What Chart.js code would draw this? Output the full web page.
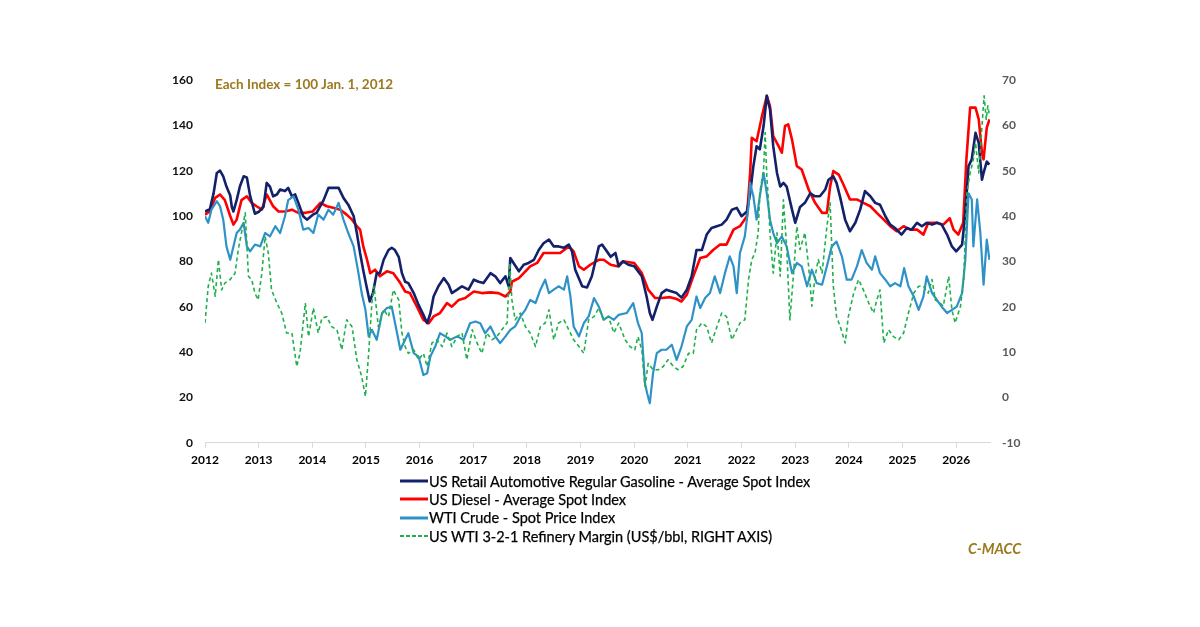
<!DOCTYPE html>
<html><head><meta charset="utf-8">
<script src="https://cdn.jsdelivr.net/npm/chart.js@4.4.1/dist/chart.umd.min.js"></script>
<style>
body{margin:0;background:#fff;}
#wrap{position:relative;width:1200px;height:627px;overflow:hidden;font-family:Lato,"Open Sans",sans-serif;background:#fff;}
canvas{position:absolute;left:0;top:0;}
#note{position:absolute;left:215px;top:76px;color:#9B7A1E;font-weight:bold;font-size:13.5px;white-space:nowrap;}
#legend{position:absolute;left:400px;top:472px;}
.row{display:flex;align-items:center;height:18.3px;font-size:14.5px;color:#000;white-space:nowrap;-webkit-text-stroke:0.25px #000;}
.row svg{margin-right:1px;}
#src{position:absolute;left:968px;top:540px;color:#9B7A1E;font-style:italic;font-weight:bold;font-size:14.5px;}
</style></head>
<body>
<div id="wrap">
<canvas id="c" width="1200" height="627"></canvas>
<div id="note">Each Index = 100 Jan. 1, 2012</div>
<div id="legend"></div>
<div id="src">C-MACC</div>
</div>
<script>
const seriesLabels = [
  "US Retail Automotive Regular Gasoline - Average Spot Index",
  "US Diesel - Average Spot Index",
  "WTI Crude - Spot Price Index",
  "US WTI 3-2-1 Refinery Margin (US$/bbl, RIGHT AXIS)"
];
const leftTicks = [0,20,40,60,80,100,120,140,160];
const rightTicks = [-10,0,10,20,30,40,50,60,70];
const yearTicks = [2012,2013,2014,2015,2016,2017,2018,2019,2020,2021,2022,2023,2024,2025,2026];

const gasYears = [2012.00,2012.09,2012.16,2012.22,2012.28,2012.34,2012.40,2012.47,2012.50,2012.53,2012.59,2012.65,2012.72,2012.78,2012.84,2012.93,2013.01,2013.09,2013.15,2013.21,2013.27,2013.34,2013.40,2013.49,2013.55,2013.62,2013.68,2013.74,2013.83,2013.90,2014.01,2014.08,2014.21,2014.30,2014.39,2014.49,2014.58,2014.67,2014.77,2014.83,2014.89,2014.95,2015.01,2015.07,2015.13,2015.20,2015.26,2015.33,2015.42,2015.48,2015.54,2015.61,2015.67,2015.73,2015.79,2015.89,2015.98,2016.07,2016.14,2016.20,2016.26,2016.35,2016.45,2016.54,2016.60,2016.70,2016.79,2016.91,2017.01,2017.10,2017.19,2017.32,2017.41,2017.50,2017.60,2017.66,2017.69,2017.75,2017.85,2017.94,2018.03,2018.13,2018.22,2018.31,2018.41,2018.50,2018.59,2018.69,2018.78,2018.84,2018.90,2019.03,2019.12,2019.21,2019.34,2019.40,2019.49,2019.56,2019.65,2019.71,2019.79,2019.89,2020.00,2020.14,2020.23,2020.29,2020.34,2020.42,2020.51,2020.60,2020.70,2020.79,2020.88,2020.98,2021.07,2021.16,2021.26,2021.35,2021.44,2021.54,2021.63,2021.72,2021.82,2021.91,2022.00,2022.10,2022.16,2022.22,2022.28,2022.34,2022.41,2022.47,2022.53,2022.59,2022.66,2022.72,2022.78,2022.84,2022.94,2023.00,2023.09,2023.18,2023.28,2023.37,2023.46,2023.56,2023.62,2023.71,2023.77,2023.84,2023.93,2024.02,2024.12,2024.21,2024.30,2024.40,2024.49,2024.58,2024.68,2024.77,2024.86,2024.98,2025.08,2025.17,2025.27,2025.36,2025.45,2025.55,2025.64,2025.73,2025.83,2025.92,2026.00,2026.11,2026.17,2026.23,2026.29,2026.36,2026.42,2026.48,2026.51,2026.57,2026.62];
const gasValues = [102,103,110,119,120,117.5,113,109,104,102,107,113,117.5,117,109,101,102,104,114.6,113,108.7,109.5,111.7,111,112.4,108.7,109.5,105.8,99.9,98.4,100.6,101.4,107,112.4,112.4,112.4,108,105,100,92.5,83.7,76,69,62.3,66,74.8,74.8,80.7,85,86,85,82,74.8,71,70.4,66,60.8,56.4,52.7,57,64.5,69,72.6,69.7,66,67.5,69,67.5,71.9,71,70.4,74.8,73.4,70.4,73.4,69,81.5,79.3,75.6,78.5,79.3,80.7,85,88,89.6,86.6,86.6,86,87.4,84.4,76.3,69,68.5,73.4,86.6,87.4,84.4,82,83.7,77.8,80,78.5,77.8,73.4,64.5,57.2,54.2,60,66,67.5,66.7,66,64,67.5,73.4,85,85,91.8,94.7,95.5,96.2,98.4,102.8,103.6,99.9,102,110,122,130.8,129.4,139.7,153,147,130.8,119,113,114.6,113,102.8,97,104,105.8,110,108.7,108.7,111.7,116,117.5,114.6,108,98.4,93.3,97,102.8,111,108.7,105.8,105,99.9,96.2,94.7,91.8,94.7,94,97,95.5,97,96.2,97,96.2,91.8,86.6,84.4,87.4,101.4,122,125,136.7,132.3,116,119,124,122.7];

const dslYears = [2012.00,2012.09,2012.19,2012.28,2012.37,2012.47,2012.53,2012.59,2012.68,2012.78,2012.87,2012.96,2013.06,2013.15,2013.27,2013.37,2013.49,2013.62,2013.74,2013.87,2014.01,2014.15,2014.27,2014.39,2014.52,2014.64,2014.74,2014.83,2014.89,2014.95,2015.02,2015.08,2015.17,2015.26,2015.39,2015.51,2015.64,2015.73,2015.82,2015.95,2016.07,2016.17,2016.26,2016.38,2016.51,2016.60,2016.73,2016.85,2017.01,2017.16,2017.32,2017.47,2017.60,2017.69,2017.72,2017.85,2017.94,2018.06,2018.19,2018.31,2018.47,2018.62,2018.78,2018.87,2018.97,2019.06,2019.18,2019.34,2019.43,2019.56,2019.68,2019.79,2020.00,2020.14,2020.26,2020.39,2020.51,2020.67,2020.79,2020.88,2020.98,2021.10,2021.23,2021.35,2021.47,2021.60,2021.72,2021.85,2021.97,2022.10,2022.16,2022.19,2022.28,2022.38,2022.47,2022.53,2022.59,2022.69,2022.75,2022.81,2022.87,2022.94,2023.03,2023.12,2023.25,2023.37,2023.50,2023.59,2023.65,2023.71,2023.81,2023.90,2024.02,2024.15,2024.27,2024.40,2024.52,2024.65,2024.77,2024.89,2025.02,2025.14,2025.27,2025.39,2025.48,2025.64,2025.76,2025.88,2025.95,2026.04,2026.13,2026.19,2026.26,2026.36,2026.42,2026.48,2026.51,2026.57,2026.62];
const dslValues = [100.6,102,108,109.5,107,100,96.2,98.4,107,108.7,105.8,104.3,102.8,109.5,104.3,102,102,102.8,101.4,101.4,102,105.8,104.3,103.6,102.8,100.6,98.4,95.5,94,86.6,80.7,74.8,76.3,73.4,75.6,74.8,70.4,66.7,66,60,54.2,52.7,55.7,57.2,61.6,60,63,63.8,66.7,66,66.3,66,64.5,66.7,71,72.6,74.8,77.8,79.3,83.7,83.7,83.7,86.6,84.4,77.8,76.3,78.5,80.7,80.7,78.5,77.8,80,79.3,74.8,67.5,63.8,63.8,64.2,63.4,62.3,65.3,73.4,81.5,82.2,85,87.4,87.4,94,95.5,99.9,119,134.5,133,144,153,148.5,135.3,130.8,127.9,139.7,140.4,133.7,122,120.5,111.7,105.8,101.4,101.4,113,119.8,118.3,113.8,107.3,107.3,105.8,104.3,101.4,98.4,95.5,93.3,95.5,94,94,91.8,97,97,96.2,99,94,91.8,97,125,147.8,147.8,142.6,127.9,125,139,142.6];

const wtiYears = [2012.00,2012.06,2012.12,2012.22,2012.28,2012.34,2012.40,2012.47,2012.53,2012.59,2012.65,2012.72,2012.78,2012.84,2012.93,2013.03,2013.12,2013.21,2013.31,2013.40,2013.49,2013.55,2013.65,2013.74,2013.83,2013.93,2014.02,2014.11,2014.21,2014.30,2014.39,2014.49,2014.58,2014.67,2014.77,2014.86,2014.92,2014.99,2015.05,2015.11,2015.20,2015.30,2015.39,2015.48,2015.58,2015.64,2015.73,2015.79,2015.89,2015.98,2016.07,2016.14,2016.20,2016.29,2016.38,2016.48,2016.57,2016.70,2016.82,2016.94,2017.04,2017.13,2017.22,2017.32,2017.41,2017.50,2017.60,2017.69,2017.78,2017.88,2017.97,2018.06,2018.16,2018.25,2018.34,2018.41,2018.50,2018.59,2018.69,2018.75,2018.81,2018.87,2018.97,2019.06,2019.15,2019.25,2019.34,2019.43,2019.52,2019.62,2019.71,2019.86,2019.98,2020.07,2020.14,2020.20,2020.24,2020.29,2020.35,2020.42,2020.51,2020.60,2020.70,2020.79,2020.88,2020.98,2021.07,2021.16,2021.23,2021.32,2021.41,2021.50,2021.60,2021.69,2021.78,2021.85,2021.91,2021.97,2022.06,2022.13,2022.16,2022.22,2022.28,2022.34,2022.41,2022.47,2022.53,2022.59,2022.66,2022.75,2022.84,2022.94,2023.03,2023.12,2023.22,2023.31,2023.40,2023.50,2023.59,2023.68,2023.77,2023.87,2023.96,2024.05,2024.15,2024.24,2024.33,2024.43,2024.49,2024.58,2024.68,2024.77,2024.86,2024.96,2025.03,2025.11,2025.21,2025.30,2025.39,2025.45,2025.55,2025.64,2025.73,2025.83,2025.92,2026.01,2026.11,2026.17,2026.23,2026.29,2026.32,2026.39,2026.45,2026.51,2026.57,2026.62];
const wtiValues = [99.9,97,102.8,106.5,104.3,98.4,86.6,80.7,86.6,92.5,94,97,86.6,84.4,87.4,86.6,92.5,91,95.5,92.5,99.9,107,108.7,102.8,94,94.7,92.5,100.6,98.4,102.8,100.6,105.8,98.4,92.5,86.6,74.8,66,58.6,46.9,49.8,45.4,57.2,59.4,60,48.3,41,45.4,48.3,39.5,38,29.9,30.6,38,42.4,48.3,46.9,45.4,46.9,45.4,52.7,53.5,52.7,48.3,51.3,46.9,43.9,46.9,49.8,51.3,55.7,58.6,63,61.6,67.5,71.9,66,67.5,69,67.5,73.4,64.5,51.3,46.9,52.7,55.7,63.8,60,54.2,55.7,54.2,56.4,57.2,61.6,52.7,48.3,26.2,21.8,17.4,30.6,39.5,41,41,43.2,36.5,42.4,51.3,54.2,64.5,59.4,63.8,66,73.4,66,74.8,82.2,77.8,66,83.7,91,104.3,114.6,108.7,98.4,108.7,119,110,98.4,92.5,88,91,86.6,74.8,79.3,77.8,69,76.3,70.4,69.7,77.8,86.6,88.7,82.2,71.9,71.9,77.8,85,79.3,76.3,82.2,74.8,71.9,69,70.4,69,77,69,64.5,58.6,64.5,73.4,66,63,60,57.2,58.6,60,66,80.7,110,107.3,86.6,107.3,92.5,69.7,89.6,80.7];

const mrgYears = [2012.00,2012.06,2012.12,2012.19,2012.25,2012.31,2012.37,2012.47,2012.56,2012.62,2012.68,2012.75,2012.81,2012.87,2012.93,2012.99,2013.06,2013.12,2013.18,2013.24,2013.34,2013.43,2013.52,2013.62,2013.71,2013.77,2013.87,2013.93,2014.02,2014.11,2014.18,2014.27,2014.36,2014.46,2014.55,2014.64,2014.74,2014.83,2014.92,2014.99,2015.05,2015.11,2015.15,2015.23,2015.33,2015.42,2015.51,2015.61,2015.67,2015.73,2015.79,2015.89,2015.98,2016.07,2016.14,2016.23,2016.32,2016.42,2016.51,2016.60,2016.70,2016.79,2016.88,2016.98,2017.07,2017.16,2017.25,2017.35,2017.44,2017.53,2017.63,2017.68,2017.72,2017.78,2017.88,2017.97,2018.06,2018.16,2018.25,2018.34,2018.41,2018.50,2018.59,2018.69,2018.78,2018.87,2018.97,2019.06,2019.15,2019.25,2019.34,2019.43,2019.52,2019.62,2019.71,2019.83,2019.92,2020.01,2020.07,2020.14,2020.20,2020.26,2020.35,2020.45,2020.54,2020.63,2020.73,2020.82,2020.91,2021.01,2021.10,2021.16,2021.26,2021.35,2021.44,2021.54,2021.63,2021.72,2021.82,2021.88,2021.97,2022.06,2022.13,2022.19,2022.25,2022.31,2022.34,2022.41,2022.44,2022.47,2022.50,2022.53,2022.59,2022.66,2022.72,2022.78,2022.84,2022.90,2022.97,2023.03,2023.09,2023.18,2023.25,2023.31,2023.37,2023.43,2023.50,2023.59,2023.65,2023.71,2023.77,2023.84,2023.93,2023.99,2024.09,2024.18,2024.27,2024.37,2024.46,2024.52,2024.58,2024.65,2024.74,2024.83,2024.93,2025.02,2025.11,2025.21,2025.30,2025.39,2025.48,2025.55,2025.61,2025.70,2025.76,2025.86,2025.92,2025.98,2026.08,2026.14,2026.20,2026.26,2026.32,2026.36,2026.42,2026.48,2026.52,2026.56,2026.59,2026.62];
const mrgValues = [16.4,24.5,27.4,22.3,30.4,23.7,25.2,26,27.4,32.6,36.3,40.7,26.7,26,23,21.5,27.4,35.5,31.8,23.7,20.8,18.6,14.2,14.2,6.8,9.7,20.8,13.4,19.7,14.2,17.5,17.8,15.6,14.9,10.5,17.1,15.6,8.3,4.6,0.2,9.7,20.8,24.5,15.6,19.3,17.8,23.7,21.5,14.2,11.2,9.7,10.5,8.3,9.7,6.8,12,12.7,11.2,14.2,11.2,13.4,14.2,8.3,14.9,12,9.7,14.2,12.7,13.4,14.9,16.4,29.6,21.5,17.1,18.6,15.6,14.2,11.2,15.6,16.4,19.3,12.7,16.4,17.1,14.9,12.7,11.2,9.7,17.1,17.8,19.7,17.1,17.8,14.2,16.4,12.7,11.2,10.5,13.4,10.5,2.4,7.5,6.1,6.1,6.8,8.3,6.8,6.1,6.8,9.7,9.7,14.9,16.4,15.6,12,15.6,18.6,17.8,12.7,14.2,16.4,17.1,26,30.4,31.8,36.3,45.1,50.3,58.4,48.8,43.6,36.3,27.4,36.3,26.7,43.6,33.3,17.1,27.4,37.7,32.6,36.3,28.9,20.1,26.7,30.4,27.4,37.7,42.9,24.5,17.8,15.6,12,17.8,23,26,23.7,20.8,18.6,21.5,23.7,12,14.9,13.4,12.7,14.2,18.6,23,24.5,24.5,23,26,21.5,20.8,20.1,26.7,19.3,16.4,20.1,26,45.1,49.5,52.5,56.2,49.5,59.8,66.5,61.3,64.3,62];

const colors = ["#13206A","#FF0000","#2E92C8","#1FB04C"];
const zip = (xs, ys) => xs.map((x, i) => ({x: x, y: ys[i]}));

Chart.defaults.font.family = "Lato, 'Open Sans', sans-serif";
const tickFont = {size: 12, weight: "bold"};

const datasets = [
  {label: seriesLabels[0], data: zip(gasYears, gasValues), borderColor: colors[0], borderWidth: 2.6, yAxisID: "yL", order: 2},
  {label: seriesLabels[1], data: zip(dslYears, dslValues), borderColor: colors[1], borderWidth: 2.6, yAxisID: "yL", order: 3},
  {label: seriesLabels[2], data: zip(wtiYears, wtiValues), borderColor: colors[2], borderWidth: 2.2, yAxisID: "yL", order: 1},
  {label: seriesLabels[3], data: zip(mrgYears, mrgValues), borderColor: colors[3], borderWidth: 1.6, borderDash: [4, 3], yAxisID: "yR", order: 0}
].map(d => Object.assign(d, {pointRadius: 0, tension: 0, fill: false, borderJoinStyle: "round"}));

new Chart(document.getElementById("c"), {
  type: "line",
  data: {datasets: datasets},
  options: {
    responsive: false,
    animation: false,
    devicePixelRatio: 1,
    layout: {padding: {top: 80, left: 0, right: 0, bottom: 0}},
    plugins: {legend: {display: false}, tooltip: {enabled: false}},
    scales: {
      x: {
        type: "linear", position: "bottom",
        min: yearTicks[0], max: 2026.63,
        afterFit: s => { s.height = 184.3; },
        afterBuildTicks: s => { s.ticks = yearTicks.map(v => ({value: v})); },
        ticks: {font: tickFont, color: "#000", padding: 5, autoSkip: false, maxRotation: 0, callback: v => String(v)},
        grid: {display: true, drawOnChartArea: false, drawTicks: true, tickLength: 5, color: "#d9d9d9"},
        border: {display: true, color: "#d9d9d9", width: 1}
      },
      yL: {
        type: "linear", position: "left",
        min: leftTicks[0], max: leftTicks[leftTicks.length - 1],
        afterFit: s => { s.width = 205; },
        afterBuildTicks: s => { s.ticks = leftTicks.map(v => ({value: v})); },
        ticks: {font: tickFont, color: "#111", padding: 12},
        grid: {display: false, drawTicks: false},
        border: {display: false}
      },
      yR: {
        type: "linear", position: "right",
        min: rightTicks[0], max: rightTicks[rightTicks.length - 1],
        afterFit: s => { s.width = 210; },
        afterBuildTicks: s => { s.ticks = rightTicks.map(v => ({value: v})); },
        ticks: {font: tickFont, color: "#595959", padding: 12},
        grid: {display: false, drawTicks: false},
        border: {display: false}
      }
    }
  }
});

const legend = document.getElementById("legend");
datasets.forEach((d, i) => {
  const row = document.createElement("div");
  row.className = "row";
  const dash = d.borderDash ? 'stroke-dasharray="4,2"' : '';
  const w = d.borderDash ? 2 : 3;
  row.innerHTML = '<svg width="28" height="6"><line x1="0" y1="3" x2="28" y2="3" stroke="' + d.borderColor + '" stroke-width="' + w + '" ' + dash + '/></svg><span>' + d.label + '</span>';
  legend.appendChild(row);
});
</script>
</body></html>
